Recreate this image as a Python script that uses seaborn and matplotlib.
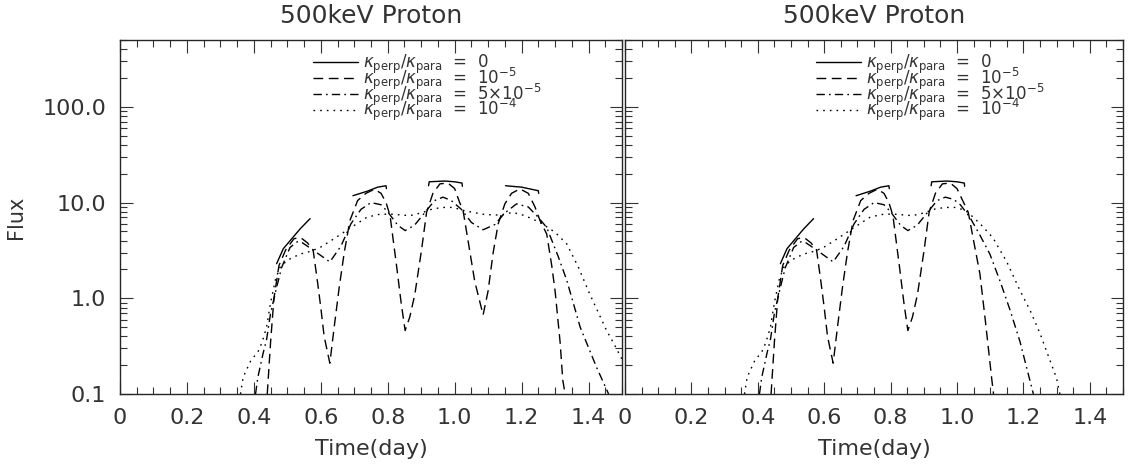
import numpy as np
import pandas as pd
import matplotlib
matplotlib.use("Agg")
import matplotlib.pyplot as plt
from matplotlib.lines import Line2D
from matplotlib.ticker import MultipleLocator, LogLocator, NullFormatter
import seaborn as sns

# ---- data (time in days, flux) ----
# kperp/kpara = 0 : separate segments (seg id)
solid_t = [0.468, 0.488, 0.538, 0.568,
           0.696, 0.74, 0.77, 0.795, 0.796,
           0.922, 0.924, 0.97, 1.0, 1.022, 1.023,
           1.152, 1.20, 1.25, 1.251]
solid_f = [2.3, 3.3, 5.3, 6.8,
           11.8, 13.2, 14.5, 15.0, 14.0,
           15.0, 16.5, 16.8, 16.5, 16.0, 14.8,
           15.0, 14.5, 13.3, 12.5]
solid_seg = [1, 1, 1, 1, 2, 2, 2, 2, 2, 3, 3, 3, 3, 3, 3, 4, 4, 4, 4]
solid_seg_right = [1, 2, 3]   # right panel has no fourth segment

# kperp/kpara = 1e-5
dash_t = [0.44, 0.45, 0.46, 0.475, 0.495, 0.52, 0.54, 0.56, 0.577, 0.59, 0.60, 0.61, 0.627,
          0.64, 0.655, 0.67, 0.687, 0.71, 0.735, 0.76, 0.78, 0.795, 0.807, 0.827, 0.84, 0.852,
          0.866, 0.881, 0.901, 0.916, 0.935, 0.956, 0.98, 1.0, 1.015, 1.025, 1.04, 1.06, 1.085,
          1.10, 1.115, 1.13, 1.15, 1.17, 1.195, 1.22, 1.24, 1.255, 1.275, 1.29, 1.30, 1.315,
          1.323, 1.33]
dash_f = [0.1, 0.35, 1.0, 2.2, 3.2, 4.2, 4.3, 3.8, 3.2, 1.5, 0.8, 0.4, 0.21,
          0.5, 1.3, 3.0, 6.5, 10.5, 12.5, 13.8, 12.5, 10.0, 7.3, 2.1, 0.9, 0.46,
          0.64, 1.1, 3.2, 7.9, 12.5, 15.7, 16.0, 14.0, 10.0, 8.3, 4.0, 1.5, 0.67,
          1.2, 3.0, 6.0, 9.7, 12.5, 13.9, 12.5, 9.0, 6.5, 4.7, 2.2, 1.2, 0.35,
          0.14, 0.1]
dash_t_right = dash_t[:33] + [1.0, 1.02, 1.034, 1.05, 1.069, 1.085, 1.105, 1.11]
dash_f_right = dash_f[:33] + [14.0, 10.0, 7.9, 4.0, 1.8, 0.6, 0.14, 0.1]

# kperp/kpara = 5e-5
dd_t = [0.405, 0.412, 0.428, 0.438, 0.45, 0.468, 0.483, 0.508, 0.53, 0.545, 0.577, 0.60, 0.627,
        0.66, 0.69, 0.72, 0.75, 0.78, 0.80, 0.83, 0.852, 0.88, 0.91, 0.94, 0.965, 0.99,
        1.02, 1.05, 1.085, 1.12, 1.15, 1.185, 1.22, 1.25, 1.275, 1.31, 1.335, 1.375,
        1.424, 1.46]
dd_f = [0.1, 0.15, 0.27, 0.37, 0.7, 1.3, 2.1, 3.4, 3.9, 3.8, 3.2, 2.8, 2.4,
        3.5, 6.0, 8.5, 10.0, 9.5, 8.0, 5.8, 5.1, 5.8, 7.8, 10.5, 11.4, 10.5,
        8.5, 6.2, 5.2, 5.9, 7.8, 9.7, 9.0, 7.0, 5.5, 2.7, 1.54, 0.5,
        0.19, 0.1]
dd_t_right = dd_t[:25] + [0.99, 1.01, 1.039, 1.07, 1.099, 1.13, 1.16, 1.19, 1.215, 1.23]
dd_f_right = dd_f[:25] + [10.8, 9.5, 7.0, 4.5, 2.9, 1.5, 0.75, 0.35, 0.16, 0.1]

# kperp/kpara = 1e-4
dot_t = [0.36, 0.368, 0.39, 0.413, 0.425, 0.438, 0.45, 0.465, 0.478, 0.50, 0.538, 0.57, 0.598,
         0.64, 0.687, 0.737, 0.77, 0.807, 0.866, 0.90, 0.935, 0.965, 0.995, 1.025, 1.055,
         1.09, 1.135, 1.174, 1.21, 1.255, 1.30, 1.335, 1.37, 1.404, 1.43, 1.454, 1.475, 1.50]
dot_f = [0.1, 0.15, 0.22, 0.28, 0.35, 0.5, 0.9, 1.6, 2.1, 2.5, 2.9, 3.1, 3.4,
         4.2, 5.4, 7.0, 7.5, 7.6, 7.3, 7.8, 8.6, 8.9, 8.9, 8.3, 7.9,
         7.5, 7.4, 7.9, 7.3, 6.2, 4.9, 3.7, 2.1, 1.1, 0.7, 0.46, 0.34, 0.23]
dot_t_right = dot_t[:23] + [1.025, 1.04, 1.07, 1.108, 1.15, 1.19, 1.22, 1.25, 1.275, 1.30, 1.31]
dot_f_right = dot_f[:23] + [8.3, 7.5, 6.0, 4.3, 2.4, 1.2, 0.75, 0.43, 0.25, 0.146, 0.1]

labels = [r"$\kappa_{\rm perp}/\kappa_{\rm para}$  =  0",
          r"$\kappa_{\rm perp}/\kappa_{\rm para}$  =  $10^{-5}$",
          r"$\kappa_{\rm perp}/\kappa_{\rm para}$  =  5$\times10^{-5}$",
          r"$\kappa_{\rm perp}/\kappa_{\rm para}$  =  $10^{-4}$"]
xticks = [0, 0.2, 0.4, 0.6, 0.8, 1.0, 1.2, 1.4]
xticklabels = ["0", "0.2", "0.4", "0.6", "0.8", "1.0", "1.2", "1.4"]
yticks = [0.1, 1, 10, 100]
yticklabels = ["0.1", "1.0", "10.0", "100.0"]

dash_styles = ["-", (0, (7, 4)), (0, (6, 3, 1.2, 3)), (0, (1.2, 3.6))]
txt = "#333333"

sns.set_style("ticks")
plt.rcParams["font.family"] = ["DejaVu Sans"]
plt.rcParams["mathtext.fontset"] = "dejavusans"
plt.rcParams["text.color"] = txt
plt.rcParams["axes.labelcolor"] = txt
plt.rcParams["xtick.labelcolor"] = txt
plt.rcParams["ytick.labelcolor"] = txt

fig = plt.figure(figsize=(11.28, 4.7), dpi=100)
ax1 = fig.add_axes([120 / 1128, 76 / 470, 502 / 1128, 354 / 470])
ax2 = fig.add_axes([625 / 1128, 76 / 470, 498 / 1128, 354 / 470])


def draw(ax, segs, dt, df_, ddt, ddf, ot, of):
    s = pd.DataFrame({"t": solid_t, "f": solid_f, "seg": solid_seg})
    s = s[s["seg"].isin(segs)]
    sns.lineplot(data=s, x="t", y="f", units="seg", estimator=None, sort=False,
                 color="k", lw=1.0, ax=ax, legend=False)
    for (xs, ys), ls in zip([(dt, df_), (ddt, ddf), (ot, of)], dash_styles[1:]):
        sns.lineplot(x=xs, y=ys, sort=False, color="k", lw=1.0, ax=ax,
                     linestyle=ls, legend=False)

    ax.set_yscale("log")
    ax.set_xlim(0, 1.5)
    ax.set_ylim(0.1, 500)
    ax.set_xticks(xticks)
    ax.set_xticklabels(xticklabels)
    ax.xaxis.set_minor_locator(MultipleLocator(0.05))
    ax.set_yticks(yticks)
    ax.yaxis.set_minor_locator(LogLocator(base=10, subs=np.arange(2, 10)))
    ax.yaxis.set_minor_formatter(NullFormatter())
    ax.tick_params(which="both", direction="in", top=True, right=True,
                   labelsize=16, pad=10, width=0.8, color="#333333")
    ax.tick_params(which="major", length=9)
    ax.tick_params(which="minor", length=5)
    for sp in ax.spines.values():
        sp.set_linewidth(1.0)
    ax.set_xlabel("Time(day)", fontsize=16, labelpad=8)
    ax.set_title("500keV Proton", fontsize=18, pad=12)
    handles = [Line2D([], [], color="k", lw=1.0, linestyle=ls) for ls in dash_styles]
    ax.legend(handles, labels, loc="upper left", bbox_to_anchor=(0.384, 0.965),
              frameon=False, fontsize=12, handlelength=2.7, handletextpad=0.3,
              labelspacing=-0.62, borderaxespad=0, borderpad=0)


draw(ax1, [1, 2, 3, 4], dash_t, dash_f, dd_t, dd_f, dot_t, dot_f)
ax1.set_yticklabels(yticklabels)
ax1.set_ylabel("Flux", fontsize=15, labelpad=12)
draw(ax2, solid_seg_right, dash_t_right, dash_f_right, dd_t_right, dd_f_right,
     dot_t_right, dot_f_right)
ax2.set_yticklabels([])
ax2.set_ylabel("")

fig.savefig("out.png", dpi=100)
